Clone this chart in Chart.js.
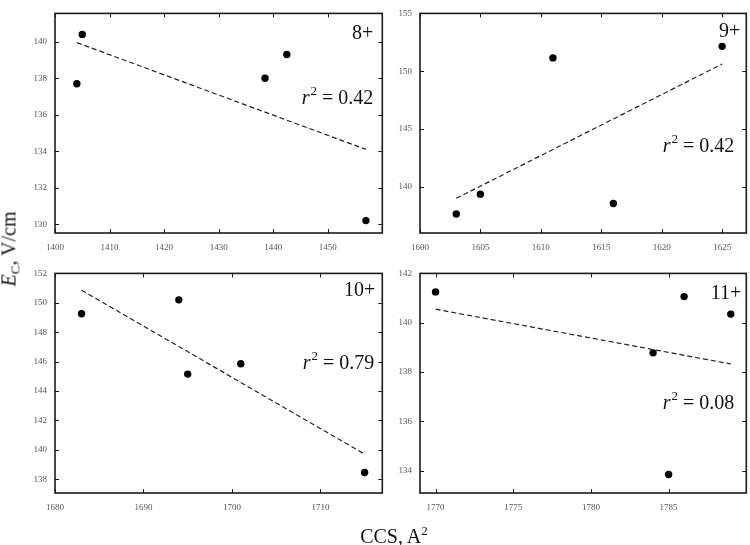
<!DOCTYPE html>
<html>
<head>
<meta charset="utf-8">
<script src="https://cdn.jsdelivr.net/npm/chart.js@4.4.0/dist/chart.umd.min.js"></script>
<style>
  html, body { margin: 0; padding: 0; background: #fff; overflow: hidden; }
  body { width: 750px; height: 545px; position: relative; font-family: 'Liberation Serif', serif; }
  canvas { position: absolute; }
  .title { position: absolute; font-size: 20px; line-height: 1; white-space: nowrap; color: #111; }
  .title sub { font-size: 13px; vertical-align: -4px; }
  .title sup { font-size: 13px; vertical-align: 8px; }
</style>
</head>
<body>
<canvas id="p8"></canvas>
<canvas id="p9"></canvas>
<canvas id="p10"></canvas>
<canvas id="p11"></canvas>
<div class="title" id="ytitle" style="left:10px; top:249px; transform: translate(-50%, -50%) rotate(-90deg);"><i>E</i><sub>C</sub>, V/cm</div>
<div class="title" id="xtitle" style="left:394px; top:524px; transform: translateX(-50%);">CCS, A<sup>2</sup></div>
<script>
// charge state 8+
const ccs8 = [1404, 1405, 1438.5, 1442.5, 1457];
const ec8 = [137.7, 140.4, 138.0, 139.3, 130.2];
const fitX8 = [1404, 1457];
const fitY8 = [139.95, 134.1];
const xTicks8 = [1400, 1410, 1420, 1430, 1440, 1450];
const yTicks8 = [130, 132, 134, 136, 138, 140];

// charge state 9+
const ccs9 = [1603, 1605, 1611, 1616, 1625];
const ec9 = [137.65, 139.35, 151.15, 138.55, 152.15];
const fitX9 = [1603, 1625];
const fitY9 = [139.0, 150.62];
const xTicks9 = [1600, 1605, 1610, 1615, 1620, 1625];
const yTicks9 = [140, 145, 150, 155];

// charge state 10+
const ccs10 = [1683, 1694, 1695, 1701, 1715];
const ec10 = [149.25, 150.2, 145.15, 145.85, 138.45];
const fitX10 = [1683, 1715];
const fitY10 = [150.86, 139.7];
const xTicks10 = [1680, 1690, 1700, 1710];
const yTicks10 = [138, 140, 142, 144, 146, 148, 150, 152];

// charge state 11+
const ccs11 = [1770, 1784, 1785, 1786, 1789];
const ec11 = [141.25, 138.78, 133.85, 141.06, 140.35];
const fitX11 = [1770, 1789];
const fitY11 = [140.55, 138.33];
const xTicks11 = [1770, 1775, 1780, 1785];
const yTicks11 = [134, 136, 138, 140, 142];

const SERIF = '"Liberation Serif", "Times New Roman", serif';

function drawR2(ctx, value, right, base) {
  ctx.font = 'italic 20px ' + SERIF;
  const wr = ctx.measureText('r').width;
  ctx.font = '13px ' + SERIF;
  const w2 = ctx.measureText('2').width;
  ctx.font = '20px ' + SERIF;
  const rest = ' = ' + value;
  const wRest = ctx.measureText(rest).width;
  let x = right - (wr + w2 + wRest + 1);
  ctx.font = 'italic 20px ' + SERIF;
  ctx.fillText('r', x, base);
  x += wr + 1;
  ctx.font = '13px ' + SERIF;
  ctx.fillText('2', x, base - 9);
  x += w2;
  ctx.font = '20px ' + SERIF;
  ctx.fillText(rest, x, base);
}

// box + inward ticks on all four sides, plus the panel labels
const framePlugin = {
  id: 'frame',
  afterDraw(chart, args, opts) {
    const { ctx, chartArea: a, scales } = chart;
    ctx.save();
    ctx.strokeStyle = '#1a1a1a';
    ctx.lineWidth = 1;
    ctx.beginPath();
    scales.x.ticks.forEach(t => {
      const px = Math.round(scales.x.getPixelForValue(t.value)) + 0.5;
      ctx.moveTo(px, a.bottom); ctx.lineTo(px, a.bottom - 4);
      ctx.moveTo(px, a.top); ctx.lineTo(px, a.top + 4);
    });
    scales.y.ticks.forEach(t => {
      const py = Math.round(scales.y.getPixelForValue(t.value)) + 0.5;
      ctx.moveTo(a.left, py); ctx.lineTo(a.left + 4, py);
      ctx.moveTo(a.right, py); ctx.lineTo(a.right - 4, py);
    });
    ctx.stroke();
    ctx.lineWidth = 1.6;
    ctx.strokeRect(a.left, a.top, a.right - a.left, a.bottom - a.top);

    ctx.fillStyle = '#111';
    ctx.textBaseline = 'alphabetic';
    ctx.textAlign = 'right';
    ctx.font = '20px ' + SERIF;
    ctx.fillText(opts.charge, a.right + opts.chargeAt[0], a.top + opts.chargeAt[1]);
    ctx.textAlign = 'left';
    drawR2(ctx, opts.r2, a.right + opts.r2At[0], a.top + opts.r2At[1]);
    ctx.restore();
  }
};

const panels = [
  { id: 'p8', ccs: ccs8, ec: ec8, fitX: fitX8, fitY: fitY8, xTicks: xTicks8, yTicks: yTicks8,
    xMin: 1400, xMax: 1460, yMin: 129.52, yMax: 141.55,
    box: { l: 55, t: 6, r: 384, b: 233 }, charge: '8+', r2: '0.42', chargeAt: [-9, 26], r2At: [-9, 91] },
  { id: 'p9', ccs: ccs9, ec: ec9, fitX: fitX9, fitY: fitY9, xTicks: xTicks9, yTicks: yTicks9,
    xMin: 1600, xMax: 1627, yMin: 136, yMax: 155,
    box: { l: 420, t: 6, r: 748, b: 233 }, charge: '9+', r2: '0.42', chargeAt: [-6, 24], r2At: [-12, 139] },
  { id: 'p10', ccs: ccs10, ec: ec10, fitX: fitX10, fitY: fitY10, xTicks: xTicks10, yTicks: yTicks10,
    xMin: 1680, xMax: 1717, yMin: 137.06, yMax: 152,
    box: { l: 55, t: 266, r: 384, b: 493 }, charge: '10+', r2: '0.79', chargeAt: [-7, 23], r2At: [-8, 96] },
  { id: 'p11', ccs: ccs11, ec: ec11, fitX: fitX11, fitY: fitY11, xTicks: xTicks11, yTicks: yTicks11,
    xMin: 1769, xMax: 1790, yMin: 133.1, yMax: 142,
    box: { l: 420, t: 266, r: 748, b: 493 }, charge: '11+', r2: '0.08', chargeAt: [-5, 26], r2At: [-12, 136] }
];

const Y_AXIS_W = 55, PAD_TOP = 6, PAD_RIGHT = 2, X_AXIS_H = 30;

panels.forEach(p => {
  const canvas = document.getElementById(p.id);
  canvas.width = p.box.r - p.box.l + Y_AXIS_W + PAD_RIGHT;
  canvas.height = p.box.b - p.box.t + PAD_TOP + X_AXIS_H;
  canvas.style.left = (p.box.l - Y_AXIS_W) + 'px';
  canvas.style.top = (p.box.t - PAD_TOP) + 'px';

  const points = p.ccs.map((x, i) => ({ x: x, y: p.ec[i] }));
  const fit = p.fitX.map((x, i) => ({ x: x, y: p.fitY[i] }));
  const tickFont = { family: SERIF, size: 9 };

  new Chart(canvas.getContext('2d'), {
    type: 'scatter',
    data: {
      datasets: [
        {
          data: fit,
          showLine: true,
          borderColor: '#222',
          borderWidth: 1.2,
          borderDash: [5, 3],
          pointRadius: 0,
          fill: false
        },
        {
          data: points,
          backgroundColor: '#000',
          borderWidth: 0,
          pointRadius: 3.7,
          pointHoverRadius: 3.7
        }
      ]
    },
    options: {
      responsive: false,
      animation: false,
      devicePixelRatio: 1,
      clip: false,
      layout: { padding: { top: PAD_TOP, right: PAD_RIGHT, left: 0, bottom: 0 } },
      plugins: {
        legend: { display: false },
        tooltip: { enabled: false },
        frame: { charge: p.charge, r2: p.r2, chargeAt: p.chargeAt, r2At: p.r2At }
      },
      scales: {
        x: {
          type: 'linear',
          min: p.xMin,
          max: p.xMax,
          grid: { display: false, drawTicks: false },
          border: { display: false },
          afterBuildTicks: s => { s.ticks = p.xTicks.map(v => ({ value: v })); },
          afterFit: s => { s.height = X_AXIS_H; },
          ticks: { autoSkip: false, maxRotation: 0, padding: 9, color: '#555', font: tickFont,
                   callback: v => String(v) }
        },
        y: {
          type: 'linear',
          min: p.yMin,
          max: p.yMax,
          grid: { display: false, drawTicks: false },
          border: { display: false },
          afterBuildTicks: s => { s.ticks = p.yTicks.map(v => ({ value: v })); },
          afterFit: s => { s.width = Y_AXIS_W; },
          ticks: { autoSkip: false, padding: 8, color: '#555', font: tickFont,
                   callback: v => String(v) }
        }
      }
    },
    plugins: [framePlugin]
  });
});
</script>
</body>
</html>
